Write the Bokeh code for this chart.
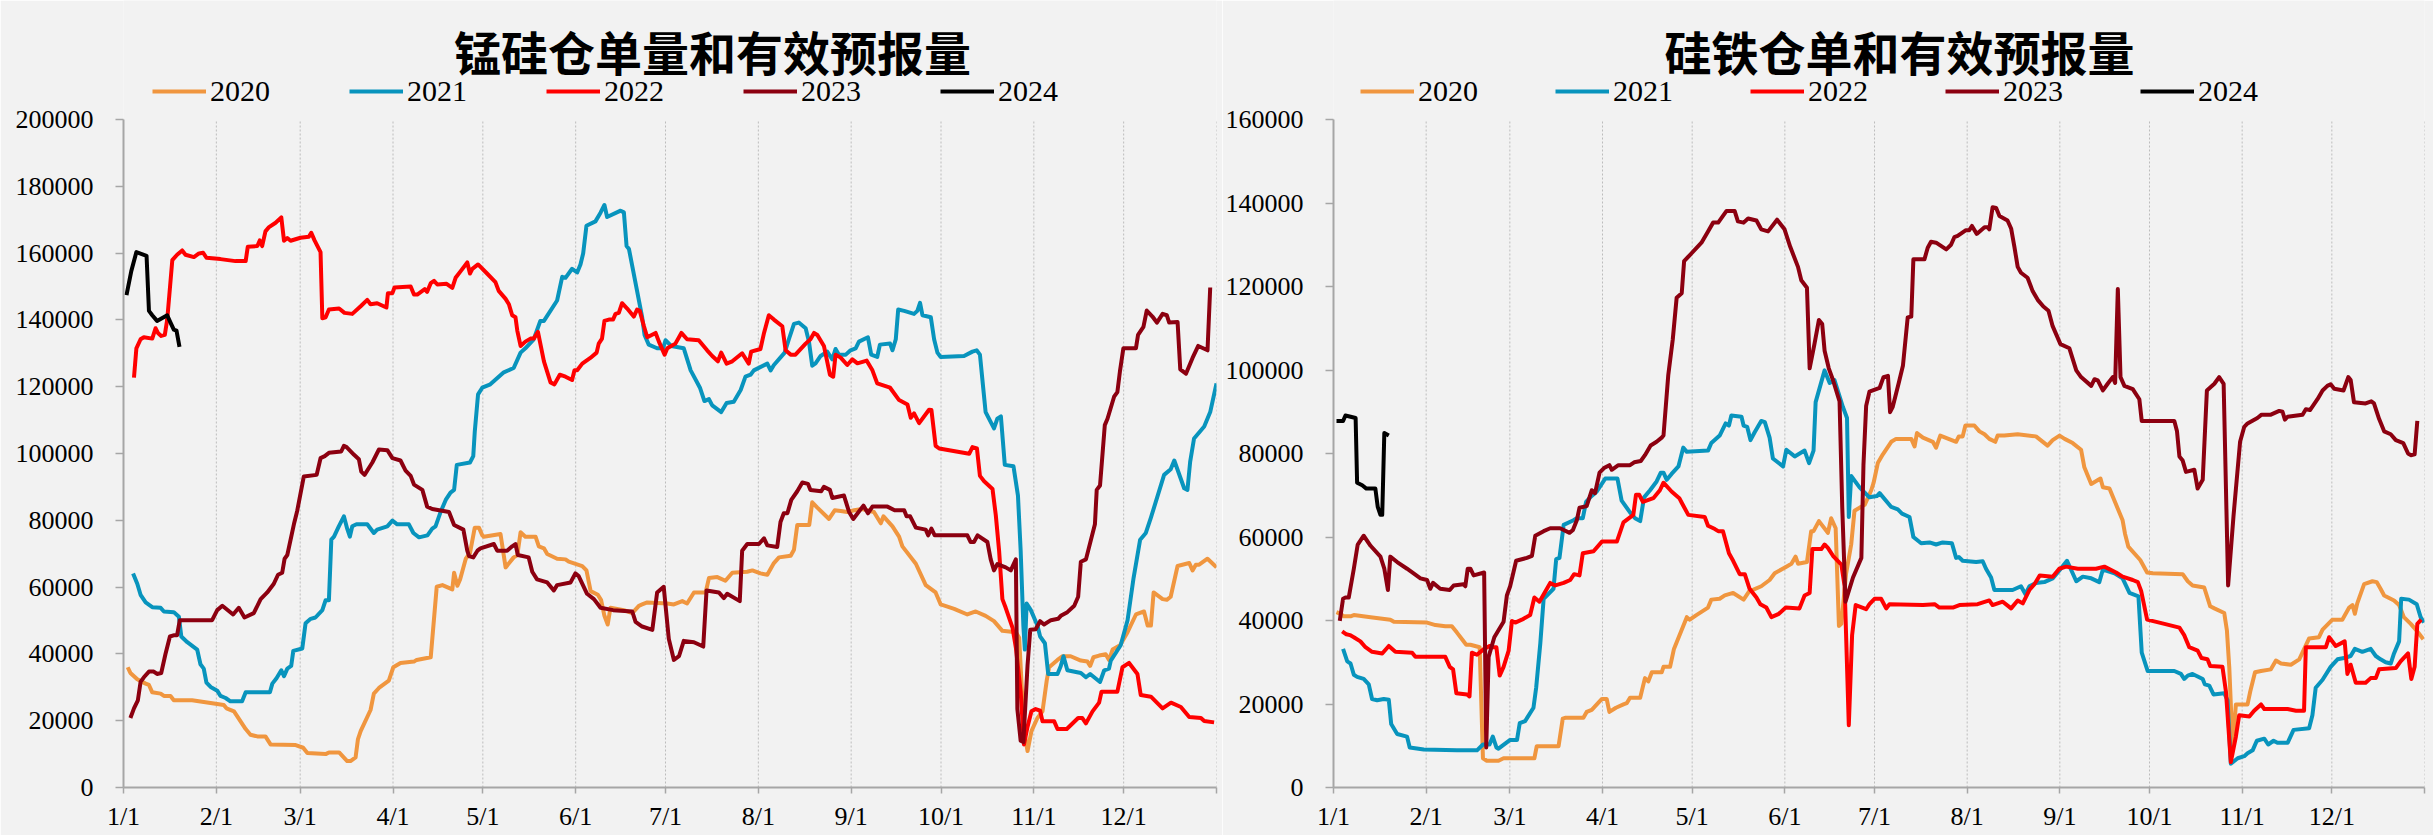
from bokeh.plotting import figure
from bokeh.models import FixedTicker, BasicTickFormatter, Legend, LegendItem, Label, Range1d
from bokeh.layouts import row
from bokeh.embed import file_html
from bokeh.resources import INLINE

# ---------------- data ----------------
MONTH_TICKS = [0, 31, 59, 90, 120, 151, 181, 212, 243, 273, 304, 334, 365]
MONTH_LABELS = ["1/1", "2/1", "3/1", "4/1", "5/1", "6/1", "7/1", "8/1", "9/1", "10/1", "11/1", "12/1", ""]
YEARS = ["2020", "2021", "2022", "2023", "2024"]
COLORS = ["#F0963F", "#0894BD", "#FF0000", "#8C0010", "#000000"]

TITLE_MN = "锰硅仓单量和有效预报量"
TITLE_FE = "硅铁仓单和有效预报量"

# (day of year, value)
MN_2020 = [(1.4,36000),(2.3,34300),(4.6,32400),(7.4,31100),(8.5,30700),(9.6,28500),(12.4,28100),(13.5,27400),(15.7,27400),(16.8,26100),(22.9,26100),(31.3,25000),(33.5,24700),(34.4,23700),(36.9,22800),(40.8,17500),(42.4,15800),(44.7,15300),(47.4,15300),(49.1,12900),(57.5,12700),(60.0,11900),(61.4,10300),(67.5,10000),(68.6,10500),(72.0,10500),(74.7,7900),(75.8,7900),(77.5,9000),(78.3,14500),(79.2,16900),(82.5,23200),(83.6,28100),(85.3,29800),(88.6,32000),(90.1,36000),(92.5,37300),(97.0,37700),(97.9,38200),(102.6,39000),(104.6,60100),(106.5,60600),(109.8,59300),(110.4,64300),(111.5,60400),(112.4,62300),(114.3,68500),(115.7,70200),(117.3,77800),(118.7,77800),(119.8,75500),(120.3,75100),(125.9,75900),(127.6,65900),(130.3,68900),(131.5,69500),(132.6,76400),(134.2,75100),(137.6,75100),(138.7,72200),(140.4,71600),(141.5,69900),(144.8,68500),(147.6,68300),(148.7,67600),(153.2,66300),(154.6,65000),(156.0,58800),(158.4,57700),(159.5,56100),(160.6,51400),(161.7,48800),(162.6,53800),(167.1,53100),(169.9,52200),(172.1,54400),(173.2,54800),(174.9,55400),(181.6,55100),(183.8,54800),(186.6,55800),(188.2,55100),(190.5,58400),(194.4,58400),(195.5,62700),(198.3,63000),(201.0,61900),(203.3,64300),(208.3,64600),(210.0,65000),(212.7,64100),(215.0,63700),(217.2,67200),(218.9,68900),(222.8,69400),(223.9,71200),(225.0,78600),(229.0,78600),(230.0,85400),(231.7,83800),(235.6,80400),(237.5,83000),(239.5,82800),(241.7,82500),(244.0,83000),(246.7,83400),(250.6,82500),(252.9,79100),(253.8,81200),(256.8,78200),(259.0,75100),(260.1,72200),(264.6,67000),(267.9,60600),(271.2,58400),(272.9,54800),(277.4,53500),(281.8,51800),(284.6,52700),(287.9,51400),(290.7,49800),(293.5,46900),(298.0,46500),(299.1,44800),(300.2,26100),(301.0,15600),(301.9,10900),(303.2,16900),(305.2,20800),(306.9,22800),(308.3,32000),(309.1,36000),(311.9,38200),(313.6,39300),(316.3,39300),(319.7,38000),(321.9,37700),(322.8,36400),(323.9,39000),(325.8,39500),(328.0,39900),(329.1,38200),(330.3,41300),(332.8,42600),(335.3,46500),(338.1,51800),(340.8,52700),(342.0,48500),(343.1,48500),(344.0,58400),(347.0,56400),(348.4,56200),(349.7,57100),(352.0,66300),(355.9,67200),(357.0,65000),(358.1,66700),(359.2,66700),(362.0,68500),(365.0,65900)]

MN_2021 = [(3.2,64100),(4.6,61000),(5.7,57700),(7.4,55400),(9.6,54000),(12.4,53800),(13.5,52700),(16.8,52500),(18.5,51100),(19.3,45200),(21.3,43500),(24.6,41300),(25.7,36900),(26.8,35600),(27.7,31400),(29.1,30100),(31.3,29000),(32.4,27400),(34.1,26800),(35.7,25800),(39.6,25800),(40.8,28500),(48.9,28500),(49.7,31100),(51.1,32700),(52.7,35100),(53.6,33300),(54.7,35600),(56.0,36400),(56.7,40900),(59.7,41600),(60.8,49200),(62.5,50500),(64.1,50900),(66.4,53100),(67.5,56100),(68.6,56100),(69.4,74200),(70.3,75100),(71.9,78200),(73.6,81200),(74.7,77500),(75.6,75100),(76.4,78200),(77.8,78800),(81.4,78800),(83.6,76200),(84.7,77200),(88.1,78200),(89.8,79900),(91.4,78800),(95.3,78800),(96.8,76200),(98.7,74900),(101.5,75500),(103.1,77500),(104.2,78200),(105.9,82500),(107.6,86100),(109.2,88300),(110.4,89100),(111.3,96600),(115.7,97300),(116.8,99200),(117.3,106500),(118.4,117700),(119.8,119700),(122.5,120700),(127.0,124300),(130.3,125600),(132.6,130200),(134.2,131500),(137.0,134200),(139.2,139700),(140.4,139700),(144.8,145800),(146.5,152900),(147.6,152600),(149.8,155300),(151.5,154200),(152.6,156600),(153.5,159900),(154.6,168200),(157.6,169500),(159.3,172100),(160.6,174400),(161.5,170800),(166.0,172700),(167.1,172200),(168.0,162100),(168.8,161200),(171.5,148700),(173.2,140800),(174.0,135500),(175.4,132600),(178.2,131500),(180.2,131500),(181.0,133900),(182.9,132200),(187.1,131500),(189.4,124900),(192.5,119700),(194.0,115700),(195.5,116300),(196.6,114400),(199.6,112400),(201.4,115100),(203.8,115500),(206.1,119000),(207.7,123000),(209.4,123600),(210.5,124900),(215.0,126900),(216.1,124900),(217.2,126500),(220.8,130200),(222.2,134200),(223.9,138800),(225.5,139200),(227.8,137500),(228.9,133500),(230.0,126300),(231.1,127000),(232.8,129200),(235.0,130500),(236.7,128200),(237.8,131300),(238.9,129600),(241.2,129600),(242.8,130900),(244.5,131500),(245.6,133500),(248.6,134800),(249.7,129600),(251.7,128900),(252.6,132600),(256.0,132900),(256.8,130900),(257.9,134200),(258.7,143100),(260.7,142700),(264.0,141800),(265.1,142700),(266.0,145100),(266.8,141400),(269.6,140800),(270.7,134200),(271.8,130200),(272.9,128900),(280.7,129200),(283.5,130500),(284.9,130900),(286.0,129600),(286.8,122300),(287.9,112400),(290.7,107500),(291.8,110400),(293.0,111100),(294.3,96600),(297.2,96200),(298.7,87400),(299.6,70900),(300.5,48500),(301.0,41300),(301.6,55100),(303.0,53100),(305.2,48500),(306.1,45200),(307.7,43200),(308.8,34000),(311.9,34000),(313.0,36400),(313.9,39300),(315.2,35100),(319.7,34300),(321.4,33000),(322.8,34000),(326.1,31600),(327.5,35100),(329.1,35600),(329.7,38000),(333.0,42600),(335.3,50100),(337.3,62700),(339.5,74200),(341.4,76200),(343.1,80800),(347.5,93600),(349.7,95300),(350.9,97900),(354.2,89600),(355.3,89100),(356.2,97500),(357.5,104500),(360.9,108100),(362.9,112400),(365.0,121000)]

MN_2022 = [(3.5,122700),(4.3,131500),(5.7,134200),(6.8,134800),(9.6,134400),(10.7,137500),(11.5,136100),(12.6,135200),(13.8,135500),(14.6,140100),(16.3,157900),(17.9,159500),(19.6,160800),(20.7,159500),(23.5,158800),(25.2,159900),(26.6,160100),(27.7,158600),(32.4,158200),(37.4,157600),(40.8,157600),(41.5,161900),(44.7,162100),(45.5,163800),(46.3,162100),(47.4,166500),(48.6,167800),(50.8,169100),(52.7,170700),(53.6,163700),(54.7,164500),(55.8,163700),(59.1,164600),(61.9,164900),(62.7,166100),(63.8,163800),(65.8,160300),(66.4,140500),(67.5,140800),(68.6,143100),(72.0,143400),(73.8,142100),(76.4,141800),(79.2,144100),(81.4,146000),(82.5,144700),(84.7,145000),(87.8,143700),(88.3,148000),(89.8,148000),(90.5,149700),(95.9,150000),(97.0,147600),(98.1,147600),(100.6,149200),(101.4,148400),(102.6,151000),(103.7,151700),(104.8,150600),(107.9,150800),(109.8,149600),(110.9,152600),(112.6,154600),(114.8,157200),(115.7,153900),(116.5,155300),(118.4,156600),(121.4,153900),(124.2,151300),(125.3,148700),(127.6,146300),(128.7,144700),(129.8,141400),(130.9,140800),(131.5,136800),(132.6,132200),(134.2,133500),(135.9,134400),(137.0,134400),(138.4,136400),(140.4,127600),(142.6,121300),(143.9,120700),(145.7,123600),(147.6,123000),(149.8,122000),(150.6,124900),(151.5,124900),(153.2,126900),(155.9,128600),(158.0,130200),(158.7,132900),(159.8,134400),(160.6,139700),(162.1,140100),(163.5,140100),(164.3,141800),(165.4,142100),(166.5,145000),(168.2,143400),(170.4,141000),(171.5,143100),(172.4,142700),(173.8,138100),(174.9,134800),(177.7,136100),(178.8,133500),(180.7,129600),(181.6,131500),(184.3,132900),(186.3,136100),(188.2,134200),(192.1,133900),(194.9,130900),(196.6,129200),(198.5,127600),(199.6,130200),(201.4,126900),(203.3,127600),(206.6,130000),(208.8,126900),(209.6,130500),(212.7,131300),(213.9,136100),(215.5,141400),(217.2,140100),(220.0,138100),(221.1,130900),(222.8,129600),(224.4,129600),(227.8,132900),(229.4,134200),(230.6,136100),(231.7,135500),(233.9,132200),(235.9,123600),(237.0,123000),(237.8,129600),(239.5,128700),(241.7,126500),(243.4,128200),(245.1,127000),(248.2,127800),(250.1,124900),(251.7,121000),(256.0,119700),(259.0,116000),(261.8,114700),(262.9,110700),(264.0,112000),(265.7,109100),(269.0,113100),(269.8,113000),(271.2,102300),(272.4,101500),(282.4,99900),(283.5,101900),(285.0,101500),(286.0,93300),(287.4,91700),(290.2,89400),(291.3,81500),(292.4,70900),(293.5,56400),(294.6,53800),(296.9,47800),(298.0,41900),(299.6,28700),(300.7,12900),(301.9,18200),(303.2,22800),(304.6,23500),(306.1,23000),(306.9,19800),(310.8,19800),(311.9,17500),(315.0,17500),(318.8,20800),(320.2,20800),(321.4,19200),(323.6,22800),(325.8,25400),(326.6,28700),(331.9,28700),(333.6,36000),(335.8,37300),(338.6,34000),(339.7,27700),(343.1,27200),(347.0,23700),(349.8,25400),(353.1,24100),(355.9,21100),(359.8,20800),(360.9,19900),(364.2,19500)]

MN_2023 = [(2.3,20800),(3.5,23700),(4.8,26100),(5.7,31600),(6.8,33000),(8.5,34700),(10.1,34700),(11.2,34000),(12.6,34300),(14.0,39900),(15.5,45200),(17.0,45600),(17.9,45600),(18.8,50100),(20.2,50100),(29.6,50100),(31.3,53100),(33.0,54400),(36.6,51800),(38.5,53800),(40.4,50900),(43.5,52200),(45.8,56400),(48.0,58400),(50.2,61000),(51.6,63700),(53.0,64300),(53.8,68500),(54.7,69600),(56.9,78800),(58.0,82800),(60.2,93100),(64.5,93600),(65.8,98600),(67.2,99200),(68.6,100200),(72.7,100600),(73.6,102300),(74.5,101900),(77.0,99600),(78.6,98300),(79.4,94600),(80.5,93600),(83.1,97300),(85.3,101200),(88.1,101000),(89.8,98600),(92.5,97900),(94.2,94900),(95.9,93300),(97.0,90700),(99.8,89100),(101.4,84100),(103.1,83400),(108.7,82500),(110.4,78600),(113.5,77200),(114.8,70900),(115.4,69300),(116.8,68900),(118.2,70900),(119.2,71600),(123.7,72900),(124.8,70900),(128.1,70900),(129.8,72200),(130.9,72900),(131.7,69600),(135.3,68900),(136.5,64600),(138.1,62300),(141.5,61400),(143.7,59000),(144.8,60600),(149.3,61400),(150.9,64100),(152.0,63300),(154.8,58000),(157.1,56400),(159.3,53800),(163.5,53100),(169.9,52700),(171.0,49600),(173.2,48200),(176.6,47200),(178.2,58400),(180.4,60100),(182.1,44500),(183.8,38200),(185.5,39300),(187.1,43900),(190.5,43500),(193.6,42200),(194.7,59000),(198.8,58400),(200.5,56700),(201.6,58000),(205.8,55800),(206.6,70900),(208.3,72900),(212.2,72900),(213.9,74600),(215.0,72500),(218.3,72000),(219.4,79500),(220.5,82100),(221.7,82100),(223.0,86100),(225.0,88700),(226.7,91300),(228.6,90900),(229.4,89100),(233.0,88700),(233.9,90000),(235.9,89100),(236.7,86700),(240.6,87400),(242.3,82500),(243.7,80400),(247.1,84400),(248.6,82100),(250.1,84100),(255.1,84100),(257.5,83000),(260.7,83000),(261.5,81200),(262.7,81200),(264.6,77800),(267.9,77200),(268.7,75500),(269.8,77500),(270.9,75500),(281.8,75500),(282.9,73500),(284.0,73500),(285.2,75500),(288.5,73500),(289.6,68300),(290.7,65000),(291.8,66900),(294.6,65900),(296.3,65000),(298.0,68300),(298.5,23500),(299.6,14000),(300.5,13600),(301.9,36600),(302.8,47200),(304.6,47400),(306.1,49800),(307.4,48800),(309.7,50100),(312.1,50500),(313.0,51400),(315.2,52500),(317.5,54400),(318.8,57100),(319.7,67600),(321.4,68300),(324.4,78800),(325.0,89100),(326.1,90400),(327.7,108500),(328.6,110400),(330.8,117000),(331.9,118400),(332.8,124900),(333.9,131500),(338.1,131500),(338.8,135500),(340.6,137900),(341.7,142800),(343.6,141000),(345.1,139200),(347.0,141800),(348.4,141400),(349.2,139200),(352.0,139400),(352.9,125200),(354.8,123900),(357.0,128600),(358.9,132200),(362.0,130900),(362.9,149700)]

MN_2024 = [(1,147400),(2.6,154600),(4.3,160300),(7.7,159200),(8.5,142700),(9.6,141400),(11.2,139700),(14.6,141400),(15.7,139200),(16.8,137100),(17.7,136800),(18.7,131900)]

FE_2020 = [(1.0,42000),(2.3,41600),(3.5,41000),(5.7,41000),(6.8,41300),(12.4,40800),(19.0,40200),(20.2,39700),(31.3,39500),(34.1,38900),(37.4,38600),(39.6,38600),(41.3,37100),(43.0,35500),(44.4,34200),(45.8,34200),(48.9,33600),(49.3,23900),(50.0,7000),(51.3,6400),(55.2,6400),(56.9,7000),(67.2,7000),(68.0,9900),(75.3,9900),(76.7,16500),(77.5,16700),(83.6,16700),(84.7,18100),(86.4,18600),(89.8,21200),(91.4,21200),(92.3,18100),(94.5,19100),(97.0,19900),(98.1,20200),(99.2,21500),(102.6,21500),(104.2,26200),(105.3,25400),(106.5,27600),(109.8,27600),(110.4,28900),(112.6,28900),(113.9,33200),(118.2,40800),(119.2,40200),(121.4,41300),(125.3,43100),(126.4,45000),(129.2,45200),(130.9,46000),(133.7,46600),(137.2,45000),(139.0,46900),(143.1,48200),(145.9,49700),(147.6,51300),(151.5,52900),(153.2,53600),(154.6,55300),(155.4,53600),(158.4,54000),(159.8,61400),(160.6,61400),(162.4,63800),(165.4,61000),(166.5,64500),(168.0,62100),(169.1,38700),(169.9,39200),(171.5,51300),(173.2,58200),(174.3,66300),(177.7,67700),(179.9,71200),(180.7,73000),(182.1,77700),(183.8,79800),(186.6,82800),(188.2,83500),(193.3,83500),(194.4,81700),(195.2,84900),(197.2,83800),(200.5,82800),(201.6,81400),(203.0,84300),(208.3,82800),(209.2,84100),(210.5,84100),(211.4,86700),(214.4,86700),(216.1,85300),(217.8,84600),(219.4,83500),(221.4,82800),(222.2,84300),(224.4,84300),(228.9,84600),(235.0,84100),(238.9,81900),(240.6,83200),(242.9,84300),(244.6,83500),(247.3,82500),(250.1,80900),(251.2,76700),(253.5,72700),(256.6,74000),(257.4,71900),(259.6,71600),(264.0,64000),(264.8,60800),(265.9,57700),(269.9,54500),(272.2,51500),(274.1,51300),(284.1,51100),(285.8,49400),(287.4,48400),(291.3,47900),(293.3,43400),(294.7,42900),(298.0,41800),(298.9,37600),(299.7,28600),(300.8,9600),(301.9,19900),(305.8,19900),(306.7,23000),(308.3,27600),(310.3,27900),(313.6,28300),(315.3,30400),(317.0,29700),(320.3,29400),(323.1,30700),(326.4,35700),(329.7,36000),(330.9,37800),(334.2,40200),(337.5,40200),(339.8,43100),(340.9,43700),(341.7,41600),(342.5,44100),(344.8,48700),(347.6,49400),(349.0,49200),(350.3,47600),(351.5,46000),(354.8,44800),(356.5,43700),(358.1,40800),(360.4,39200),(362.6,37400),(364.6,35500)]

FE_2021 = [(3.2,33200),(4.6,30200),(5.7,29700),(6.8,27000),(7.9,26500),(10.1,26000),(11.8,24700),(12.9,21200),(14.6,20900),(16.8,21200),(18.5,21000),(19.3,15200),(21.3,12800),(24.6,12200),(25.5,9600),(30.2,9100),(41.3,8900),(48.0,8900),(50.0,10300),(52.2,10300),(53.3,12200),(54.5,9600),(55.2,9300),(59.1,11400),(61.4,11400),(62.3,15400),(64.1,15900),(66.9,19100),(67.8,23900),(69.2,34600),(70.3,45200),(73.6,47600),(74.5,54700),(75.6,55000),(77.0,62900),(80.3,64000),(81.4,64500),(83.4,64500),(84.5,68400),(85.9,69500),(88.1,70900),(90.9,74000),(95.0,74000),(96.4,68700),(99.2,65900),(100.9,64500),(102.6,63800),(103.9,69500),(105.9,71200),(108.1,73300),(109.5,75400),(110.4,75400),(111.5,73700),(113.1,75100),(115.4,76900),(117.0,81400),(118.2,80400),(125.3,80700),(126.4,82500),(129.2,84300),(131.2,87200),(132.3,86700),(133.1,89100),(136.5,88800),(137.2,86700),(138.4,86400),(139.5,83200),(140.9,85100),(143.1,87800),(144.3,87500),(145.9,83800),(147.0,78800),(150.4,76900),(151.5,80900),(154.3,79300),(157.6,80700),(159.1,77700),(160.6,80700),(161.3,92300),(164.3,99900),(166.0,96900),(167.6,97600),(170.4,91200),(171.8,88500),(172.4,64800),(173.2,74600),(176.0,71900),(179.3,69500),(181.8,69800),(182.7,70500),(186.6,67200),(188.8,66600),(190.2,65600),(192.7,64800),(194.0,60000),(196.6,58500),(199.4,58700),(201.6,58200),(203.8,58700),(206.9,58500),(208.3,55000),(209.2,55200),(210.5,54300),(215.0,54000),(217.2,54200),(218.3,52400),(220.0,50300),(221.1,47300),(227.2,47300),(230.0,48200),(231.5,46300),(232.8,48200),(235.0,49000),(237.8,49200),(240.6,50100),(242.3,51500),(245.4,54300),(248.5,49400),(250.7,50500),(253.5,50100),(256.2,49200),(257.4,52200),(261.3,51300),(264.0,50100),(266.3,46600),(269.3,45800),(270.4,32300),(272.4,27900),(281.3,27900),(283.5,27200),(284.6,26000),(285.8,26800),(287.4,27200),(290.8,26000),(291.5,24700),(293.0,24400),(294.4,22300),(298.0,22600),(299.1,20900),(300.2,5700),(302.5,7000),(304.7,7500),(305.8,8200),(307.5,8900),(308.9,11200),(311.4,11700),(312.7,10300),(314.5,11200),(315.8,10700),(319.2,10700),(321.2,13800),(326.4,14200),(327.5,17300),(328.6,23900),(330.9,25800),(333.6,28900),(335.9,30700),(338.1,31000),(340.3,31500),(341.7,33200),(344.2,32500),(347.0,33200),(348.7,31500),(350.3,30700),(352.0,30000),(353.7,29700),(354.8,32100),(356.5,35000),(357.2,45200),(359.8,45000),(362.4,43900),(363.7,40800),(364.8,39500)]

FE_2022 = [(2.9,37400),(4.3,36700),(5.5,36500),(6.8,36000),(9.0,35000),(10.7,33600),(12.9,32500),(16.3,32100),(18.5,33900),(20.7,32500),(26.3,32300),(27.4,31300),(37.4,31300),(38.9,28900),(40.0,28300),(41.1,22600),(44.7,22300),(45.5,21800),(46.3,32300),(48.0,31800),(50.4,33200),(52.2,33900),(53.3,33600),(54.5,33600),(55.6,26800),(56.9,28900),(58.6,32800),(59.7,39900),(60.8,39500),(63.0,40200),(65.8,41300),(67.2,45500),(68.9,44500),(72.5,49000),(74.2,48400),(77.0,49000),(79.2,49700),(80.5,51100),(82.3,50800),(83.4,56100),(87.0,56600),(89.8,58900),(94.8,58900),(97.0,63500),(100.3,65300),(101.2,70100),(102.3,70100),(103.5,68400),(107.0,69300),(109.2,71200),(110.4,73000),(113.1,70900),(115.7,69300),(116.5,68200),(118.7,65300),(124.2,64800),(125.3,62700),(127.6,61900),(128.7,61400),(130.3,61400),(132.3,56100),(133.7,54300),(135.9,51100),(137.6,51100),(139.2,47600),(141.5,45500),(142.8,43900),(144.8,43100),(146.5,40800),(149.0,41600),(151.3,43100),(155.9,42900),(157.6,46000),(159.3,46600),(160.2,57100),(163.2,57100),(164.3,58200),(165.4,57400),(167.1,55500),(169.9,53400),(171.0,48200),(172.4,14900),(173.5,36500),(174.7,43700),(178.2,42700),(179.3,43900),(181.0,45200),(183.2,45200),(184.9,42900),(186.0,43900),(197.2,43700),(201.1,43900),(202.7,43100),(207.2,43100),(209.4,43700),(215.5,43900),(219.4,44800),(220.5,43700),(223.9,44500),(226.7,42900),(228.9,44800),(230.6,44100),(232.8,47300),(234.5,48700),(236.3,50800),(240.6,50500),(242.8,52400),(245.1,52900),(249.0,52400),(255.1,52400),(257.9,52900),(261.8,51500),(264.0,50500),(267.4,49700),(269.1,49200),(270.2,47100),(272.2,40200),(278.0,39200),(283.0,38300),(284.6,36500),(286.3,33600),(289.1,32800),(290.4,31000),(292.4,30700),(293.3,29100),(297.4,28900),(298.6,22800),(300.2,6100),(301.9,12200),(303.0,17300),(306.4,17000),(308.0,18400),(310.3,19900),(311.4,18800),(319.2,18800),(322.0,18400),(324.7,18400),(325.3,33600),(332.0,33600),(333.1,36000),(335.3,33900),(338.3,35000),(339.2,27200),(340.3,29400),(342.0,25100),(345.3,25100),(347.0,26200),(348.7,26200),(349.8,28300),(355.4,28600),(357.0,30200),(359.5,32100),(360.6,26000),(361.7,28900),(362.6,39200),(363.9,40200)]

FE_2023 = [(2.1,39900),(3.2,45200),(4.0,45500),(5.1,45500),(6.8,52400),(8.1,58200),(10.1,60300),(12.4,57900),(15.7,55300),(17.0,52400),(18.2,47300),(19.0,55300),(21.3,54000),(24.6,52400),(29.1,50100),(31.3,49700),(32.4,47600),(33.3,49000),(35.7,47600),(38.9,47300),(40.2,48400),(43.5,48700),(44.1,48200),(44.9,52400),(45.8,52400),(46.9,50800),(50.4,51500),(51.1,9600),(51.9,31300),(53.8,36000),(56.9,39700),(58.0,46000),(59.1,48200),(61.1,54300),(64.7,55000),(66.4,55500),(67.5,60300),(70.3,61400),(72.5,62100),(75.8,62100),(79.0,61000),(80.1,61700),(81.4,64000),(82.3,67000),(84.7,67400),(86.4,71200),(87.5,70500),(89.0,75400),(90.5,76500),(92.3,77200),(93.1,76100),(95.3,77200),(99.2,77200),(100.6,77900),(102.8,78200),(104.2,79600),(106.1,81900),(108.1,82800),(109.8,83800),(110.4,84300),(112.0,98800),(113.5,107300),(114.8,117300),(116.5,118400),(117.3,126100),(119.3,127600),(123.1,130500),(125.3,133200),(127.0,135300),(128.7,135300),(130.3,136900),(131.5,138100),(134.2,138100),(135.3,135600),(137.2,135300),(138.7,136300),(141.5,135800),(143.1,133700),(145.4,133200),(148.4,136000),(150.9,133700),(152.8,129500),(155.4,124700),(156.5,121500),(158.4,119700),(159.3,100400),(160.9,106200),(162.4,112000),(163.5,111000),(164.3,104600),(165.7,100400),(167.1,97600),(169.3,92500),(170.2,67200),(171.3,44500),(173.8,50300),(176.6,55000),(177.3,77200),(178.2,91400),(179.3,94800),(182.7,95700),(184.0,98300),(185.5,98600),(186.2,89900),(187.1,91200),(189.1,96900),(190.5,101000),(192.1,112600),(193.3,112800),(194.0,126500),(197.7,126500),(198.8,129300),(199.9,130700),(201.6,130500),(205.0,128900),(206.6,130000),(207.7,131800),(208.8,132100),(211.6,133500),(212.7,133500),(213.6,134500),(215.2,132600),(217.8,134200),(218.9,134200),(219.4,133700),(220.5,139000),(221.7,138800),(222.8,136900),(225.5,135800),(226.7,133900),(227.8,129500),(228.9,124700),(230.0,123300),(232.2,122100),(233.9,118900),(235.6,116800),(237.5,115200),(239.2,114200),(240.6,110500),(243.2,106200),(246.2,105200),(248.5,99900),(250.1,98300),(253.5,96200),(254.6,97800),(255.7,97500),(257.4,95100),(259.0,96700),(260.7,98300),(261.5,96900),(262.4,119400),(263.3,98300),(264.6,96200),(267.4,95400),(269.6,93000),(270.4,87800),(281.3,87800),(282.2,85300),(283.0,79300),(284.1,78300),(285.2,75600),(288.0,76100),(289.1,71600),(290.8,73700),(292.2,95100),(294.7,96700),(296.3,98300),(297.8,96700),(299.3,48400),(301.1,65000),(303.3,82800),(304.7,86400),(305.8,87200),(309.1,88500),(310.5,89300),(313.6,89300),(316.4,90200),(317.5,90000),(318.3,88100),(319.2,88800),(324.2,89300),(325.3,90600),(326.7,90400),(329.2,93000),(330.9,95100),(332.5,96200),(333.6,96600),(334.8,95500),(337.9,95100),(339.5,98300),(340.3,97600),(341.4,92300),(345.3,92000),(347.2,92500),(348.1,92000),(349.8,88300),(351.5,85300),(353.7,84600),(355.4,83200),(357.9,82500),(359.5,80000),(360.4,79600),(361.7,79800),(362.6,87800)]

FE_2024 = [(1.0,87800),(3.2,87800),(4.0,89100),(7.4,88500),(7.9,73000),(9.6,72400),(11.0,71600),(14.0,71600),(14.8,67200),(15.7,65300),(16.3,65300),(17.0,84900),(18.5,84300)]

MN_SERIES = [MN_2020, MN_2021, MN_2022, MN_2023, MN_2024]
FE_SERIES = [FE_2020, FE_2021, FE_2022, FE_2023, FE_2024]

BG = "#f2f2f2"
AXIS_GRAY = "#a6a6a6"

FIG_H = 835
BORDER_BOTTOM = 48
FRAME_H = FIG_H - BORDER_BOTTOM          # frame reaches the top of the figure
AXIS_PX = 668                            # pixels used by the value axis (0..ymax)


def make_chart(title, series, ymax, width, border_left, border_right,
               title_center_x, legend_x, legend_spacing):
    ytop = ymax * FRAME_H / AXIS_PX      # room above the axis for title + legend
    p = figure(width=width, height=FIG_H,
               min_border_left=border_left, min_border_right=border_right,
               min_border_top=0, min_border_bottom=BORDER_BOTTOM,
               x_range=Range1d(0, 365), y_range=Range1d(0, ytop),
               output_backend="svg", toolbar_location=None, title_location=None,
               background_fill_color=BG, border_fill_color=BG, outline_line_color=None)

    # month grid lines (only up to the top of the value axis)
    gx = MONTH_TICKS[1:]
    p.segment(x0=gx, y0=[0] * len(gx), x1=gx, y1=[ymax] * len(gx),
              line_color="#bcbcbc", line_width=1, line_dash="2 2")

    items = []
    for year, data, color in zip(YEARS, series, COLORS):
        xs = [d for d, v in data]
        ys = [v for d, v in data]
        r = p.line(xs, ys, line_color=color, line_width=4, line_join="round")
        items.append(LegendItem(label=year, renderers=[r]))

    # axes
    p.xaxis.ticker = FixedTicker(ticks=MONTH_TICKS)
    p.xaxis.major_label_overrides = {t: lab for t, lab in zip(MONTH_TICKS, MONTH_LABELS)}
    p.yaxis.ticker = FixedTicker(ticks=list(range(0, ymax + 1, 20000)))
    p.yaxis.formatter = BasicTickFormatter(use_scientific=False)
    p.yaxis.bounds = (0, ymax)
    for ax in (p.xaxis, p.yaxis):
        ax.axis_line_color = AXIS_GRAY
        ax.axis_line_width = 2
        ax.major_tick_line_color = AXIS_GRAY
        ax.major_tick_line_width = 1.5
        ax.major_tick_in = 0
        ax.minor_tick_line_color = None
        ax.major_label_text_font = "Liberation Serif"
        ax.major_label_text_font_size = "26px"
        ax.major_label_text_color = "#000000"
    p.xaxis.major_tick_out = 6
    p.xaxis.major_label_standoff = 8
    p.yaxis.major_tick_out = 8
    p.yaxis.major_label_standoff = 22
    p.xgrid.visible = False
    p.ygrid.visible = False

    legend = Legend(items=items, orientation="horizontal",
                    location=(legend_x, FRAME_H - 93 - 15),
                    padding=0, margin=0, spacing=legend_spacing,
                    glyph_width=54, glyph_height=30, label_width=100, label_height=30,
                    label_standoff=4, label_text_font="Liberation Serif",
                    label_text_font_size="30px", label_text_color="#000000",
                    border_line_color=None, background_fill_alpha=0)
    p.add_layout(legend)

    p.add_layout(Label(x=title_center_x, y=FRAME_H - 50, x_units="screen", y_units="screen",
                       text=title, text_align="center", text_baseline="middle",
                       text_font="Noto Sans CJK SC", text_font_style="bold",
                       text_font_size="47px", text_color="#000000"))
    return p


p1 = make_chart(TITLE_MN, MN_SERIES, 200000, 1222, 123, 6, 589, 29, 39)
p2 = make_chart(TITLE_FE, FE_SERIES, 160000, 1211, 109, 9, 566, 27, 37)

layout = row(p1, p2)
open("out.html", "w").write(file_html(layout, INLINE))
